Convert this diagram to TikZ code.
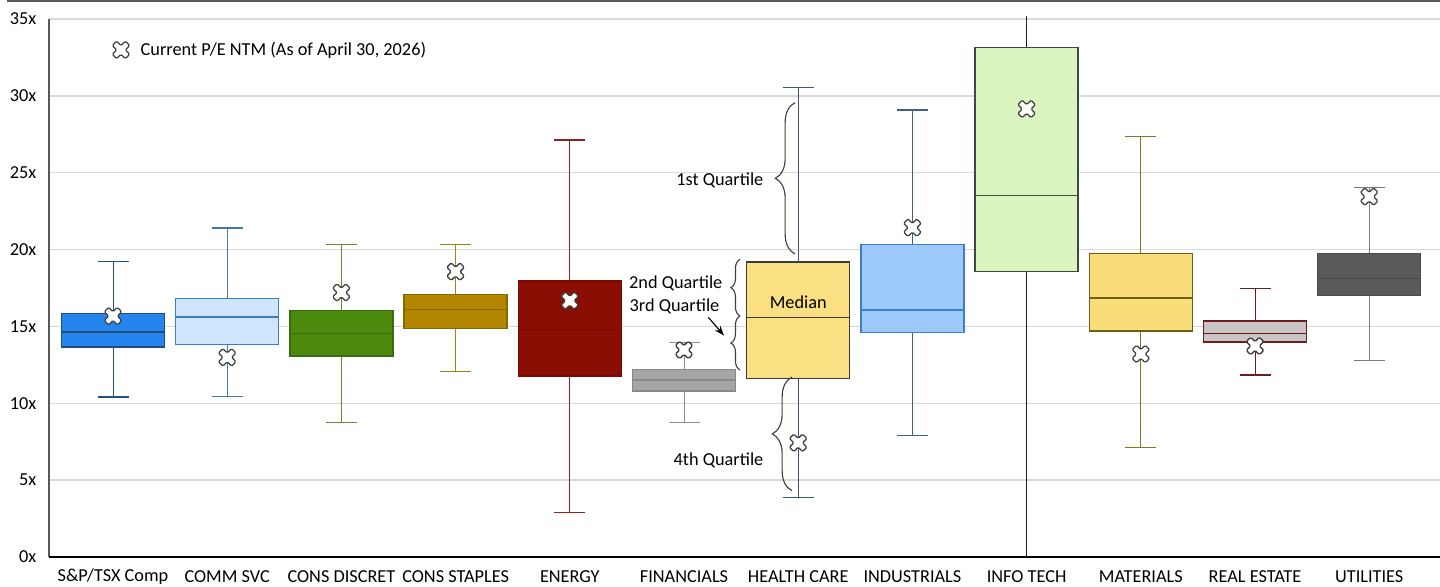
\documentclass[tikz,border=0pt]{standalone}
\usepackage{fontspec}
\setmainfont{Carlito}
\usepackage{xcolor}
\usepackage{tikz}
\usetikzlibrary{arrows.meta,positioning,decorations.pathreplacing}

\definecolor{gridgray}{RGB}{217,217,217}
\definecolor{axisgray}{RGB}{89,89,89}
\definecolor{markgray}{RGB}{64,64,64}
\definecolor{bracegray}{RGB}{64,64,64}
% fill / outline / whisker per sector
\definecolor{tsxF}{RGB}{38,132,238}   \definecolor{tsxL}{RGB}{31,78,121}   \definecolor{tsxW}{RGB}{40,80,125}
\definecolor{comF}{RGB}{207,229,251}  \definecolor{comL}{RGB}{63,124,191}  \definecolor{comW}{RGB}{70,120,175}
\definecolor{disF}{RGB}{76,138,14}    \definecolor{disL}{RGB}{58,107,16}   \definecolor{disW}{RGB}{100,138,50}
\definecolor{staF}{RGB}{179,134,0}    \definecolor{staL}{RGB}{138,104,0}   \definecolor{staW}{RGB}{160,128,26}
\definecolor{eneF}{RGB}{139,14,4}     \definecolor{eneL}{RGB}{122,10,0}    \definecolor{eneW}{RGB}{139,35,35}
\definecolor{finF}{RGB}{165,165,165}  \definecolor{finL}{RGB}{135,135,135} \definecolor{finW}{RGB}{143,143,143}
\definecolor{hcaF}{RGB}{250,224,130}  \definecolor{hcaL}{RGB}{59,59,59}    \definecolor{hcaW}{RGB}{62,85,115}
\definecolor{indF}{RGB}{157,201,251}  \definecolor{indL}{RGB}{60,125,208}  \definecolor{indW}{RGB}{62,94,140}
\definecolor{itF}{RGB}{218,245,192}   \definecolor{itL}{RGB}{64,70,64}     \definecolor{itW}{RGB}{32,32,32}
\definecolor{matF}{RGB}{249,221,120}  \definecolor{matL}{RGB}{110,94,26}   \definecolor{matW}{RGB}{133,116,32}
\definecolor{reF}{RGB}{201,197,197}   \definecolor{reL}{RGB}{110,28,28}    \definecolor{reW}{RGB}{110,28,28}
\definecolor{utiF}{RGB}{90,90,90}     \definecolor{utiL}{RGB}{74,74,74}    \definecolor{utiW}{RGB}{122,122,122}

\tikzset{
  lbl/.style={font=\fontsize{13}{15}\selectfont, text=black, inner sep=1pt},
  grid/.style={gridgray, line width=0.9pt},
  qbrace/.style={bracegray, line width=0.8pt, decorate},
  pemark/.pic={
    \filldraw[fill=white, draw=markgray, line width=0.9pt, rounded corners=0.9pt, rotate=45]
      (-2.2pt,6.6pt) -- (2.2pt,6.6pt) -- (2.2pt,2.2pt) -- (6.6pt,2.2pt) -- (6.6pt,-2.2pt) -- (2.2pt,-2.2pt)
      -- (2.2pt,-6.6pt) -- (-2.2pt,-6.6pt) -- (-2.2pt,-2.2pt) -- (-6.6pt,-2.2pt) -- (-6.6pt,2.2pt) -- (-2.2pt,2.2pt) -- cycle;
  }
}

\begin{document}
\begin{tikzpicture}[x=0.025cm, y=0.384cm]
    \useasboundingbox (0,-1.908) rectangle (1440,36.24);

    % Frame top
    \draw[axisgray, line width=1.4pt] (7,36.15) -- (1440,36.15);

    % Grid and y labels
    \foreach \v in {5,10,...,35} {
        \draw[grid] (49,\v) -- (1440,\v);
    }
    \foreach \v in {0,5,...,35} {
        \node[lbl, anchor=east] (tick\v) at (38,\v) {\v x};
    }

    % Boxes: centre / low / q1 / median / q3 / high / current / colours / cap
    \foreach \cx/\lo/\qa/\md/\qb/\hi/\pe/\fc/\lc/\wc/\cap in {
        113/10.4/13.65/14.63/15.85/19.2/15.67/tsxF/tsxL/tsxW/15.5,
        227.2/10.46/13.83/15.6/16.82/21.4/12.98/comF/comL/comW/15.5,
        341.4/8.75/13.07/14.54/16.02/20.34/17.2/disF/disL/disW/15.5,
        455.6/12.05/14.85/16.1/17.08/20.34/18.56/staF/staL/staW/15.5,
        569.8/2.89/11.76/14.8/17.95/27.13/16.67/eneF/eneL/eneW/15.5,
        684/8.75/10.8/11.5/12.2/13.93/13.46/finF/finL/finW/15.5,
        798.2/3.87/11.61/15.59/19.19/30.56/7.42/hcaF/hcaL/hcaW/15.5,
        912.4/7.88/14.58/16.06/20.34/29.08/21.42/indF/indL/indW/15.5,
        1026.6/0/18.55/23.53/33.14/35.2/29.15/itF/itL/itW/0,
        1140.8/7.12/14.69/16.84/19.75/27.35/13.2/matF/matL/matW/15.5,
        1255/11.83/13.98/14.54/15.36/17.49/13.72/reF/reL/reW/15.5,
        1369.2/12.76/16.99/18.12/19.75/24.02/23.44/utiF/utiL/utiW/15.5} {
        \draw[\wc, line width=0.7pt] (\cx,\lo) -- (\cx,\qa) (\cx,\qb) -- (\cx,\hi);
        \draw[\wc, line width=0.8pt] (\cx-\cap,\lo) -- (\cx+\cap,\lo) (\cx-\cap,\hi) -- (\cx+\cap,\hi);
        \filldraw[fill=\fc, draw=\lc, line width=1pt] (\cx-51.5,\qa) rectangle (\cx+51.5,\qb);
        \draw[\lc, line width=0.9pt] (\cx-51.5,\md) -- (\cx+51.5,\md);
        \pic at (\cx,\pe) {pemark};
    }

    % Axes
    \draw[axisgray, line width=1.4pt] (49.3,0) -- (49.3,35);
    \draw[black, line width=1.1pt] (49.3,0) -- (1440,0);

    % Legend
    \pic at (121,32.99) {pemark};
    \node[lbl, anchor=west] (legend) at (139,32.99) {Current P/E NTM (As of April 30, 2026)};

    % Quartile guide on health care
    \node[lbl] (median) at (798.2,16.58) {Median};
    \draw[qbrace, decoration={brace, amplitude=14pt}] (795,19.71) -- (795,29.56);
    \draw[qbrace, decoration={brace, amplitude=6.5pt}] (740,15.67) -- (740,19.36);
    \draw[qbrace, decoration={brace, amplitude=6.5pt}] (740,12.16) -- (740,15.67);
    \draw[qbrace, decoration={brace, amplitude=14pt}] (792,4.3) -- (792,11.7);
    \node[lbl, anchor=east] (q1lbl) at (765,24.53) {1st Quartile};
    \node[lbl, anchor=east] (q2lbl) at (724,17.82) {2nd Quartile};
    \node[lbl, anchor=east] (q3lbl) at (721,16.28) {3rd Quartile};
    \node[lbl, anchor=east] (q4lbl) at (765,6.3) {4th Quartile};
    \coordinate (q3tip) at (724,14.40);
    \draw[-{Stealth[length=7pt,width=5pt]}, line width=0.8pt] ([xshift=-9pt,yshift=-1pt]q3lbl.south east) -- (q3tip);

    % Sector labels
    \node[lbl] (sec1) at (113,-1.32) {S\&P/TSX Comp};
    \node[lbl] (sec2) at (227.2,-1.32) {COMM SVC};
    \node[lbl] (sec3) at (341.4,-1.32) {CONS DISCRET};
    \node[lbl] (sec4) at (455.6,-1.32) {CONS STAPLES};
    \node[lbl] (sec5) at (569.8,-1.32) {ENERGY};
    \node[lbl] (sec6) at (684,-1.32) {FINANCIALS};
    \node[lbl] (sec7) at (798.2,-1.32) {HEALTH CARE};
    \node[lbl] (sec8) at (912.4,-1.32) {INDUSTRIALS};
    \node[lbl] (sec9) at (1026.6,-1.32) {INFO TECH};
    \node[lbl] (sec10) at (1140.8,-1.32) {MATERIALS};
    \node[lbl] (sec11) at (1255,-1.32) {REAL ESTATE};
    \node[lbl] (sec12) at (1369.2,-1.32) {UTILITIES};
\end{tikzpicture}
\end{document}
